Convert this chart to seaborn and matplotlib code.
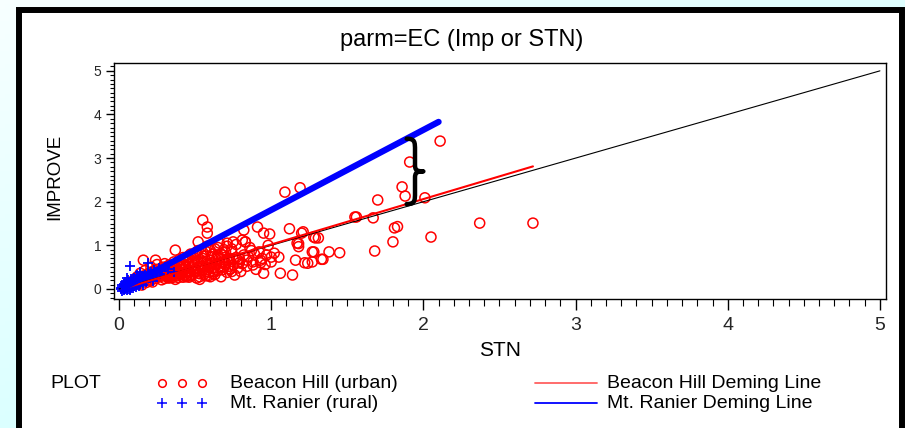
import numpy as np
import pandas as pd
import seaborn as sns
import matplotlib
matplotlib.use("Agg")
import matplotlib.pyplot as plt
from matplotlib.patches import Rectangle, PathPatch
from matplotlib.path import Path
from matplotlib.lines import Line2D
from matplotlib.ticker import MultipleLocator

sns.set_theme(style="white")
plt.rcParams["font.family"] = ["Liberation Sans", "DejaVu Sans"]

# ---- data -------------------------------------------------------------
title = "parm=EC (Imp or STN)"
x_label = "STN"
y_label = "IMPROVE"
x_ticks = [0, 1, 2, 3, 4, 5]
y_ticks = [0, 1, 2, 3, 4, 5]

# Beacon Hill (urban): STN vs IMPROVE
bh_stn = [
    1.09, 1.19, 0.55, 0.58, 0.58, 0.52, 0.37, 0.91, 0.95, 0.99, 1.12, 1.21, 1.28, 1.31,
    1.55, 1.17, 1.18, 1.28, 1.38, 1.45, 1.16, 1.24, 1.34, 1.14, 1.06, 0.95, 1.00, 1.05,
    0.93, 0.88, 0.82, 0.81, 0.83, 0.75, 0.71, 0.51, 0.24, 0.16,
    2.11, 1.91, 1.86, 1.88, 2.01, 1.70, 1.56, 1.67, 2.37, 2.72, 1.81, 1.83, 1.80, 2.05,
    1.68, 1.27, 1.33, 1.27, 1.22, 1.29, 1.20, 1.18,
    0.10, 0.12, 0.13, 0.14, 0.15, 0.16, 0.17, 0.18, 0.19, 0.20, 0.21, 0.22, 0.23, 0.24,
    0.25, 0.26, 0.27, 0.28, 0.29, 0.30, 0.31, 0.32, 0.33, 0.34, 0.35, 0.36, 0.37, 0.38,
    0.39, 0.40, 0.41, 0.42, 0.43, 0.44, 0.45, 0.46, 0.47, 0.48, 0.49, 0.50, 0.51, 0.52,
    0.53, 0.54, 0.55, 0.56, 0.57, 0.58, 0.59, 0.60, 0.61, 0.62, 0.63, 0.64, 0.65, 0.66,
    0.67, 0.68, 0.69, 0.70, 0.71, 0.72, 0.73, 0.74, 0.75, 0.76, 0.77, 0.78, 0.79, 0.80,
    0.82, 0.84, 0.86, 0.88, 0.90, 0.92, 0.94, 0.96, 0.98, 1.00,
    0.20, 0.24, 0.28, 0.30, 0.33, 0.36, 0.38, 0.40, 0.42, 0.44, 0.46, 0.48, 0.50, 0.52,
    0.54, 0.56, 0.58, 0.60, 0.62, 0.64, 0.66, 0.68, 0.70, 0.72, 0.74, 0.46, 0.53, 0.60,
    0.34, 0.27, 0.18, 0.22, 0.15, 0.25, 0.31, 0.37, 0.43, 0.49, 0.55, 0.61, 0.65, 0.69,
    0.75, 0.81, 0.85, 0.89, 0.57, 0.63, 0.71, 0.77, 0.47, 0.52, 0.42, 0.58, 0.66, 0.83,
    0.87, 0.93, 0.97, 1.02,
    0.19, 0.21, 0.23, 0.26, 0.29, 0.32, 0.35, 0.39, 0.41, 0.45, 0.48, 0.51, 0.54, 0.57,
    0.59, 0.62, 0.64, 0.67, 0.70, 0.73, 0.35, 0.38, 0.41, 0.44, 0.47, 0.50, 0.53, 0.56,
    0.59, 0.62, 0.26, 0.29, 0.32, 0.43, 0.49, 0.55, 0.61, 0.67, 0.72, 0.78, 0.30, 0.36,
    0.40, 0.45, 0.50, 0.55, 0.60, 0.65, 0.69, 0.74, 0.79, 0.84, 0.14, 0.17, 0.21, 0.25,
    0.12, 0.09, 0.11, 0.16, 0.20, 0.24, 0.28, 0.33, 0.39, 0.44,
]
bh_imp = [
    2.22, 2.32, 1.58, 1.42, 1.28, 1.08, 0.89, 1.42, 1.28, 1.26, 1.38, 1.31, 1.19, 1.17,
    1.65, 1.05, 0.97, 0.85, 0.85, 0.83, 0.66, 0.59, 0.68, 0.32, 0.36, 0.36, 0.73, 0.73,
    0.66, 0.55, 1.35, 1.12, 1.08, 1.08, 1.05, 0.85, 0.66, 0.66,
    3.39, 2.91, 2.34, 2.13, 2.09, 2.04, 1.65, 1.63, 1.51, 1.51, 1.40, 1.43, 1.08, 1.19,
    0.87, 0.85, 0.68, 0.62, 0.60, 1.17, 1.28, 1.04,
    0.15, 0.20, 0.12, 0.25, 0.18, 0.30, 0.22, 0.15, 0.35, 0.27, 0.20, 0.40, 0.31, 0.24,
    0.45, 0.36, 0.28, 0.21, 0.50, 0.33, 0.42, 0.26, 0.55, 0.37, 0.30, 0.47, 0.22, 0.60,
    0.40, 0.33, 0.52, 0.27, 0.45, 0.66, 0.36, 0.57, 0.30, 0.48, 0.40, 0.70, 0.25, 0.62,
    0.35, 0.52, 0.44, 0.75, 0.30, 0.58, 0.38, 0.66, 0.47, 0.80, 0.33, 0.55, 0.42, 0.70,
    0.28, 0.62, 0.50, 0.85, 0.38, 0.66, 0.46, 0.92, 0.55, 0.32, 0.72, 0.48, 0.60, 0.40,
    0.78, 0.52, 0.95, 0.62, 0.45, 0.85, 0.70, 0.56, 1.00, 0.62,
    0.33, 0.36, 0.38, 0.24, 0.44, 0.34, 0.48, 0.58, 0.38, 0.50, 0.42, 0.62, 0.46, 0.36,
    0.64, 0.50, 0.44, 0.54, 0.40, 0.68, 0.52, 0.44, 0.60, 0.52, 0.40, 0.27, 0.22, 0.28,
    0.48, 0.42, 0.26, 0.16, 0.09, 0.31, 0.31, 0.38, 0.32, 0.55, 0.58, 0.60, 0.78, 0.72,
    0.68, 0.58, 0.74, 0.80, 0.86, 0.92, 0.98, 1.02, 0.80, 0.88, 0.72, 0.98, 1.05, 1.08,
    0.88, 0.60, 0.78, 0.82,
    0.22, 0.28, 0.34, 0.30, 0.38, 0.29, 0.40, 0.35, 0.44, 0.40, 0.52, 0.41, 0.48, 0.40,
    0.56, 0.47, 0.58, 0.49, 0.55, 0.45, 0.26, 0.30, 0.35, 0.29, 0.33, 0.38, 0.28, 0.34,
    0.31, 0.36, 0.40, 0.46, 0.52, 0.56, 0.64, 0.70, 0.74, 0.80, 0.70, 0.66, 0.58, 0.62,
    0.68, 0.74, 0.78, 0.84, 0.88, 0.95, 0.90, 0.86, 0.70, 0.66, 0.36, 0.42, 0.50, 0.56,
    0.28, 0.18, 0.24, 0.20, 0.22, 0.28, 0.32, 0.25, 0.26, 0.28,
]

# Mt. Ranier (rural): STN vs IMPROVE
mr_stn = [
    0.01, 0.02, 0.02, 0.03, 0.03, 0.04, 0.04, 0.05, 0.05, 0.05, 0.06, 0.06, 0.07, 0.07,
    0.08, 0.08, 0.09, 0.09, 0.10, 0.10, 0.11, 0.11, 0.12, 0.12, 0.13, 0.13, 0.14, 0.14,
    0.15, 0.15, 0.16, 0.16, 0.17, 0.17, 0.18, 0.18, 0.19, 0.19, 0.20, 0.20, 0.21, 0.22,
    0.22, 0.23, 0.24, 0.25, 0.26, 0.27, 0.28, 0.30, 0.32, 0.36, 0.04, 0.03, 0.06, 0.08,
    0.10, 0.12, 0.14, 0.02, 0.01, 0.07, 0.09, 0.11, 0.13,
    0.02, 0.03, 0.04, 0.05, 0.06, 0.07, 0.08, 0.09, 0.10, 0.11, 0.12, 0.13, 0.15, 0.17,
    0.19, 0.21, 0.03, 0.05, 0.07, 0.09, 0.11, 0.13, 0.15, 0.18, 0.04, 0.06, 0.08, 0.10,
]
mr_imp = [
    0.00, 0.02, 0.05, 0.01, 0.08, 0.03, 0.06, 0.02, 0.10, 0.25, 0.04, 0.12, 0.07, 0.53,
    0.14, 0.03, 0.10, 0.18, 0.06, 0.15, 0.20, 0.12, 0.08, 0.24, 0.17, 0.28, 0.12, 0.22,
    0.30, 0.18, 0.25, 0.10, 0.33, 0.20, 0.28, 0.15, 0.60, 0.36, 0.24, 0.31, 0.40, 0.18,
    0.35, 0.44, 0.30, 0.38, 0.48, 0.34, 0.42, 0.50, 0.45, 0.39, 0.15, 0.12, 0.20, 0.22,
    0.26, 0.32, 0.38, 0.08, 0.03, 0.00, 0.02, 0.04, 0.06,
    -0.04, -0.02, 0.00, -0.03, 0.01, -0.02, 0.05, 0.08, 0.11, 0.09, 0.16, 0.14, 0.21, 0.24,
    0.26, 0.28, 0.04, 0.06, 0.10, 0.13, 0.17, 0.21, 0.25, 0.24, 0.09, 0.15, 0.18, 0.20,
]

# Deming regression lines (end points) and the 1:1 reference line
bh_line_stn = [0.02, 2.72]
bh_line_imp = [0.00, 2.81]
mr_line_stn = [0.03, 2.10]
mr_line_imp = [0.03, 3.83]
one_to_one = [0, 5]

legend_points = ["Beacon Hill (urban)", "Mt. Ranier (rural)"]
legend_lines = ["Beacon Hill Deming Line", "Mt. Ranier Deming Line"]

# ---- figure -----------------------------------------------------------
W, H = 905, 428
fig = plt.figure(figsize=(W / 100, H / 100), dpi=100)

# pale cyan backdrop with a soft gradient
bg = fig.add_axes([0, 0, 1, 1], zorder=-10)
gx, gy = np.meshgrid(np.linspace(0, 1, 200), np.linspace(0, 1, 100))
t = np.clip(0.55 * gx + 0.65 * gy, 0, 1)
c0 = np.array([0.97, 1.0, 1.0])
c1 = np.array([0.80, 1.0, 1.0])
img = c0[None, None, :] * (1 - t[..., None]) + c1[None, None, :] * t[..., None]
bg.imshow(img, aspect="auto", extent=[0, 1, 0, 1], origin="upper")
bg.set_axis_off()

# white panel with heavy black frame
fig.patches.append(Rectangle((19 / W, -0.2), 883 / W, 1.2 - 10 / H,
                             transform=fig.transFigure, facecolor="white",
                             edgecolor="black", linewidth=4.3, zorder=-5))

ax = fig.add_axes([114 / W, 1 - 299 / H, 772 / W, 236 / H])
ax.set_facecolor("white")

bh = pd.DataFrame({"STN": bh_stn, "IMPROVE": bh_imp})
mr = pd.DataFrame({"STN": mr_stn, "IMPROVE": mr_imp})

sns.scatterplot(data=bh, x="STN", y="IMPROVE", ax=ax, marker="o", s=52,
                facecolors="none", edgecolor="#ff0000", linewidth=1.1, zorder=2)
sns.scatterplot(data=mr, x="STN", y="IMPROVE", ax=ax, marker="+", s=44,
                color="#0000ff", linewidth=1.3, zorder=3)

sns.lineplot(x=one_to_one, y=one_to_one, ax=ax, color="black", linewidth=0.8, zorder=4)
sns.lineplot(x=bh_line_stn, y=bh_line_imp, ax=ax, color="#ff0000", linewidth=1.5, zorder=5)
sns.lineplot(x=mr_line_stn, y=mr_line_imp, ax=ax, color="#0000ff", linewidth=4.5, zorder=6)

# curly brace between the two Deming lines
xb = 1.89
def on_line(xs, ys, x):
    return ys[0] + (ys[1] - ys[0]) * (x - xs[0]) / (xs[1] - xs[0])
yt = on_line(mr_line_stn, mr_line_imp, xb)
yb = on_line(bh_line_stn, bh_line_imp, xb)
ym = (yt + yb) / 2
h = yt - yb
xm, xr = xb + 0.055, xb + 0.11
verts = [(xb, yt),
         (xm, yt), (xm, yt - 0.05 * h), (xm, yt - 0.18 * h),
         (xm, ym + 0.1 * h),
         (xm, ym + 0.02 * h), (xm + 0.01, ym), (xr, ym),
         (xm + 0.01, ym), (xm, ym - 0.02 * h), (xm, ym - 0.1 * h),
         (xm, yb + 0.18 * h),
         (xm, yb + 0.05 * h), (xm, yb), (xb, yb)]
codes = [Path.MOVETO] + [Path.CURVE4] * 3 + [Path.LINETO] + [Path.CURVE4] * 6 + \
        [Path.LINETO] + [Path.CURVE4] * 3
ax.add_patch(PathPatch(Path(verts, codes), facecolor="none", edgecolor="black",
                       linewidth=3.2, zorder=7, capstyle="round", joinstyle="round"))

ax.set_xlim(-0.033, 5.04)
ax.set_ylim(-0.23, 5.18)
ax.set_xticks(x_ticks)
ax.set_yticks(y_ticks)
ax.xaxis.set_minor_locator(MultipleLocator(0.1))
ax.yaxis.set_minor_locator(MultipleLocator(0.1))
ax.tick_params(axis="x", which="major", direction="out", length=8, width=1,
               color="black", labelsize=14, pad=5, bottom=True)
ax.tick_params(axis="x", which="minor", direction="out", length=5, width=0.8,
               color="black", bottom=True)
ax.tick_params(axis="y", which="major", direction="out", length=6, width=1,
               color="black", labelsize=10, pad=3, left=True)
ax.tick_params(axis="y", which="minor", direction="out", length=3, width=0.8,
               color="black", left=True)
for sp in ax.spines.values():
    sp.set_visible(True)
    sp.set_color("black")
    sp.set_linewidth(1.0)
ax.set_xlabel("")
ax.set_ylabel("")

fig.text(462 / W, 1 - 40 / H, title, ha="center", va="center", fontsize=17, color="black")
fig.text(500 / W, 1 - 350 / H, x_label, ha="center", va="center", fontsize=15, color="black")
fig.text(55 / W, 1 - 177 / H, y_label, ha="center", va="center", rotation=90,
         fontsize=13.5, color="black")

# legend block
r1, r2 = 1 - 383 / H, 1 - 403 / H
lfs = 14
fig.text(50 / W, r1, "PLOT", ha="left", va="center", fontsize=lfs, color="black")
for px in (162, 182, 202):
    fig.add_artist(Line2D([px / W], [r1], marker="o", markersize=5.5, markerfacecolor="none",
                          markeredgecolor="#ff0000", markeredgewidth=1.1, linestyle="none"))
    fig.add_artist(Line2D([px / W], [r2], marker="+", markersize=6.5, color="#0000ff",
                          markeredgewidth=1.1, linestyle="none"))
fig.text(230 / W, r1, legend_points[0], ha="left", va="center", fontsize=lfs, color="black")
fig.text(230 / W, r2, legend_points[1], ha="left", va="center", fontsize=lfs, color="black")
fig.add_artist(Line2D([535 / W, 597 / W], [r1, r1], color="#ff6060", linewidth=1.3))
fig.add_artist(Line2D([535 / W, 597 / W], [r2, r2], color="#0000ff", linewidth=1.3))
fig.text(607 / W, r1, legend_lines[0], ha="left", va="center", fontsize=lfs, color="black")
fig.text(607 / W, r2, legend_lines[1], ha="left", va="center", fontsize=lfs, color="black")

fig.savefig("out.png", dpi=100)
